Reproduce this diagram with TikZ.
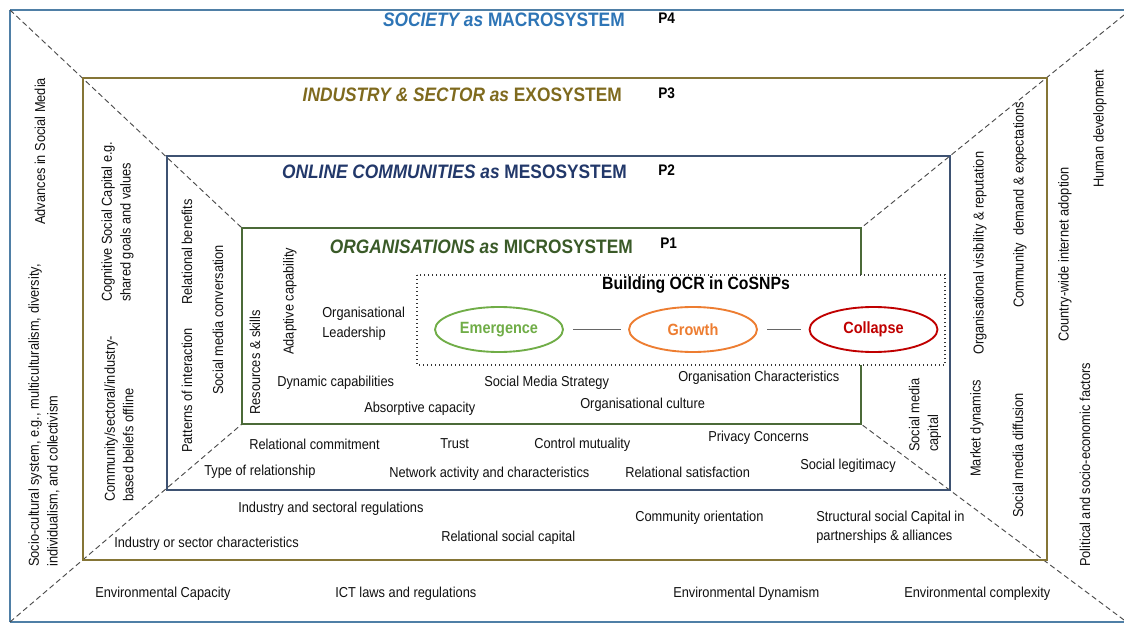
\documentclass[tikz,border=0pt]{standalone}
\usepackage{fontspec}
\setmainfont{Liberation Sans}[FakeStretch=0.89]
\usetikzlibrary{shapes.geometric}
\definecolor{macroT}{HTML}{2E75B6}
\definecolor{macroL}{HTML}{4F7FA6}
\definecolor{exoT}{HTML}{7F6A1E}
\definecolor{exoL}{HTML}{857536}
\definecolor{mesoT}{HTML}{22386A}
\definecolor{mesoL}{HTML}{3E5272}
\definecolor{microT}{HTML}{3A5A28}
\definecolor{microL}{HTML}{4B6A38}
\definecolor{emG}{HTML}{70AD47}
\definecolor{grO}{HTML}{ED7D31}
\definecolor{coR}{HTML}{C00000}
\definecolor{txtc}{HTML}{111111}
\begin{document}
\begin{tikzpicture}[x=0.75pt,y=-0.75pt,
 txt/.style={font=\fontsize{10.8}{14}\selectfont, inner sep=0pt, align=left, text=txtc},
 htx/.style={txt, anchor=west},
 vtx/.style={txt, rotate=90, anchor=west},
 ttl/.style={font=\fontsize{14.6}{16}\selectfont\bfseries, inner sep=0pt, anchor=east},
 plab/.style={font=\fontsize{11.5}{13}\selectfont\bfseries, inner sep=0pt, anchor=west},
 sysbox/.style={line width=1.4pt},
 diag/.style={draw=black!70, line width=0.7pt, dash pattern=on 4pt off 2.5pt},
 phase/.style={ellipse, draw, line width=1.4pt, minimum width=96pt, minimum height=33.75pt, inner sep=0pt, font=\fontsize{12.2}{14}\selectfont\bfseries},
 link/.style={draw=black!60, line width=1pt, shorten >=5.5pt, shorten <=7pt}
]
\useasboundingbox (0,0) rectangle (1124,624);
\fill[white] (0,0) rectangle (1124,624);

% corners
\coordinate (oTL) at (10,10);
\coordinate (oTR) at (1124,15);
\coordinate (oBL) at (10,622);
\coordinate (oBR) at (1124,620);
\coordinate (p1TL) at (242,228);
\coordinate (p1TR) at (861,228);
\coordinate (p1BL) at (242,424);
\coordinate (p1BR) at (861,424);

% system boxes
\draw[macroL, sysbox] (10,10) -- (1124,10);
\draw[macroL, sysbox] (10,10) -- (10,622);
\draw[macroL, sysbox] (10,622) -- (1124,622);
\fill[white] (1110,11.5) rectangle (1126,620.5);

% diagonals
\draw[diag] (oTL) -- (p1TL);
\draw[diag] (oTR) -- (p1TR);
\draw[diag] (oBL) -- (p1BL);
\draw[diag] (oBR) -- (p1BR);

\draw[exoL, sysbox] (83,78) rectangle (1047,560);
\draw[mesoL, sysbox] (167,156) rectangle (950,490);
\draw[microL, sysbox] (p1TL) rectangle (p1BR);

% titles
\node[ttl, text=macroT] (t4) at (625,20) {\itshape SOCIETY as\upshape{} MACROSYSTEM};
\node[ttl, text=exoT] (t3) at (622,95) {\itshape INDUSTRY \& SECTOR as\upshape{} EXOSYSTEM};
\node[ttl, text=mesoT] (t2) at (627,172) {\itshape ONLINE COMMUNITIES as\upshape{} MESOSYSTEM};
\node[ttl, text=microT] (t1) at (633,247) {\itshape ORGANISATIONS as\upshape{} MICROSYSTEM};
\node[plab] (pl4) at (658,18) {P4};
\node[plab] (pl3) at (658,93) {P3};
\node[plab] (pl2) at (658,170) {P2};
\node[plab] (pl1) at (660,243) {P1};

% OCR box
\draw[black!80, line width=1pt, dotted, fill=white] (417,275) rectangle (945,365);
\node[font=\fontsize{13.3}{15}\selectfont\bfseries, inner sep=0pt] (ocr) at (696,285) {Building OCR in CoSNPs};
\node[phase, draw=emG, text=emG] (em) at (499,329.5) {Emergence};
\node[phase, draw=grO, text=grO] (gr) at (693,329.5) {Growth};
\node[phase, draw=coR, text=coR] (co) at (873.5,329.5) {Collapse};
\draw[link] (em) -- (gr);
\draw[link] (gr) -- (co);

% microsystem texts
\node[htx, font=\fontsize{10.8}{14.8}\selectfont] (ol) at (322,324) {Organisational\\Leadership};
\node[vtx] (rs) at (255,415) {Resources \& skills};
\node[vtx] (ac) at (290,355) {Adaptive capability};
\node[htx] (dc) at (277,383) {Dynamic capabilities};
\node[htx] (abc) at (364,409) {Absorptive capacity};
\node[htx] (sms) at (484,383) {Social Media Strategy};
\node[htx] (och) at (678,378) {Organisation Characteristics};
\node[htx] (ocu) at (580,405) {Organisational culture};

% mesosystem texts
\node[vtx] (rb) at (187,305) {Relational benefits};
\node[vtx] (poi) at (187,453) {Patterns of interaction};
\node[vtx] (smc) at (218,395) {Social media conversation};
\node[htx] (rc) at (249,444) {Relational commitment};
\node[htx] (tr) at (440,444) {Trust};
\node[htx] (cm) at (534,445) {Control mutuality};
\node[htx] (pc) at (708,438) {Privacy Concerns};
\node[htx] (tor) at (204,472) {Type of relationship};
\node[htx] (nac) at (389,474) {Network activity and characteristics};
\node[htx] (rsat) at (625,472) {Relational satisfaction};
\node[htx] (sl) at (800,466) {Social legitimacy};
\node[vtx] (smcap) at (925,452) {Social media\\capital};

% exosystem texts
\node[vtx] (csc) at (117.5,302) {Cognitive Social Capital e.g.\\shared goals and values};
\node[vtx] (csi) at (119,502) {Community/sectoral/industry-\\based beliefs offline};
\node[htx] (isr) at (238,509) {Industry and sectoral regulations};
\node[htx] (isc) at (114,544) {Industry or sector characteristics};
\node[htx] (rsc) at (441,538) {Relational social capital};
\node[htx] (co2) at (635,518) {Community orientation};
\node[htx] (ssc) at (816,527) {Structural social Capital in\\partnerships \& alliances};
\node[vtx] (ovr) at (980,355) {Organisational visibility \& reputation};
\node[vtx] (md) at (977,477) {Market dynamics};
\node[vtx] (cde) at (1020,308) {Community~~demand \& expectations};
\node[vtx] (smd) at (1018,518) {Social media diffusion};

% macrosystem texts
\node[vtx] (asm) at (40,225) {Advances in Social Media};
\node[vtx] (scs) at (44,567) {Socio-cultural system, e.g., multiculturalism, diversity,\\individualism, and collectivism};
\node[htx] (ecap) at (95,594) {Environmental Capacity};
\node[htx] (ict) at (335,594) {ICT laws and regulations};
\node[htx] (edy) at (673,594) {Environmental Dynamism};
\node[htx] (eco) at (904,594) {Environmental complexity};
\node[vtx] (cwi) at (1065,342) {Country-wide internet adoption};
\node[vtx] (pse) at (1085,567) {Political and socio-economic factors};
\node[vtx] (hd) at (1100,188) {Human development};
\end{tikzpicture}
\end{document}
